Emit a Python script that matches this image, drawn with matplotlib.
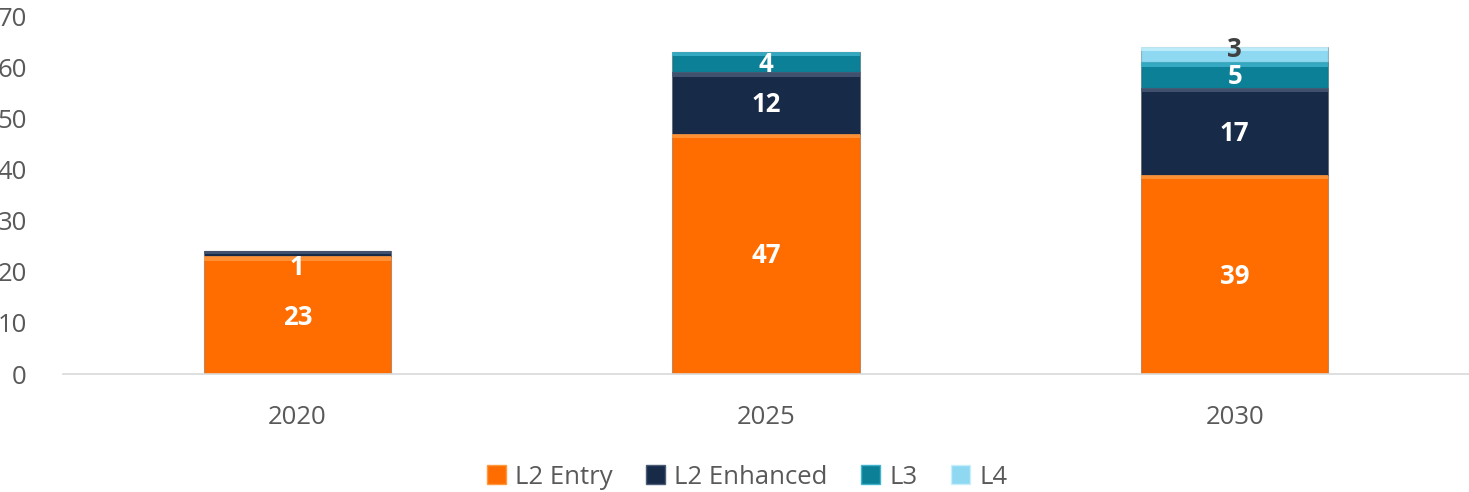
import numpy as np
import matplotlib.pyplot as plt
from matplotlib.patches import Patch

years = ["2020", "2025", "2030"]
series = ["L2 Entry", "L2 Enhanced", "L3", "L4"]
l2_entry = [23, 47, 39]
l2_enhanced = [1, 12, 17]
l3 = [0, 4, 5]
l4 = [0, 0, 3]

colors = ["#FF6D00", "#172A48", "#0C8096", "#8ED8F2"]
tops = ["#FF9A40", "#4A5C78", "#3FB4CC", "#C8F0FC"]
label_colors = ["white", "white", "white", "#404040"]

plt.rcParams['font.family'] = ['Open Sans', 'DejaVu Sans']

fig = plt.figure(figsize=(14.69, 4.92), dpi=100)
ax = fig.add_axes([63 / 1469, (492 - 374) / 492, 1 - 63 / 1469, 358 / 492])

x = np.arange(len(years))
width = 0.4
bottom = np.zeros(len(years))
data = [l2_entry, l2_enhanced, l3, l4]

for i, vals in enumerate(data):
    vals = np.array(vals, dtype=float)
    ax.bar(x, vals, width, bottom=bottom, color=colors[i], edgecolor="#00000040",
           linewidth=0.8, zorder=2)
    # bevel highlight on the top edge of each segment
    hl = np.where(vals > 0, np.minimum(0.9, vals * 0.5), 0)
    ax.bar(x, hl, width, bottom=bottom + vals - hl, color=tops[i], linewidth=0,
           alpha=0.8, zorder=3)
    for j, v in enumerate(vals):
        if v <= 0:
            continue
        y = bottom[j] + v / 2
        if v < 2 and i == 1:
            y -= 2.2
        if i == 3:
            y += 1.3
        ax.text(x[j], y - 0.4, f"{int(v)}", ha="center", va="center", fontsize=18.5,
                fontweight="bold", color=label_colors[i], zorder=4)
    bottom += vals

ax.set_xlim(-0.5, 2.5)
ax.set_ylim(0, 70)
ax.set_yticks(range(0, 71, 10))
ax.set_xticks(x)
ax.set_xticklabels(years)
ax.tick_params(axis="both", length=0, labelsize=18.5, colors="#595959")
ax.tick_params(axis="y", pad=26)
ax.tick_params(axis="x", pad=22)
for s in ["top", "right", "left"]:
    ax.spines[s].set_visible(False)
ax.spines["bottom"].set_color("#D9D9D9")
ax.spines["bottom"].set_linewidth(1.2)

handles = [Patch(facecolor=colors[i], edgecolor=tops[i], label=series[i]) for i in range(4)]
leg = fig.legend(handles=handles, loc="center", bbox_to_anchor=(747 / 1469, 1 - 477 / 492),
                 ncol=4, frameon=False, fontsize=18.5, handlelength=0.75, handleheight=0.75,
                 handletextpad=0.35, columnspacing=1.3)
for t in leg.get_texts():
    t.set_color("#595959")

fig.savefig("out.png", dpi=100)
